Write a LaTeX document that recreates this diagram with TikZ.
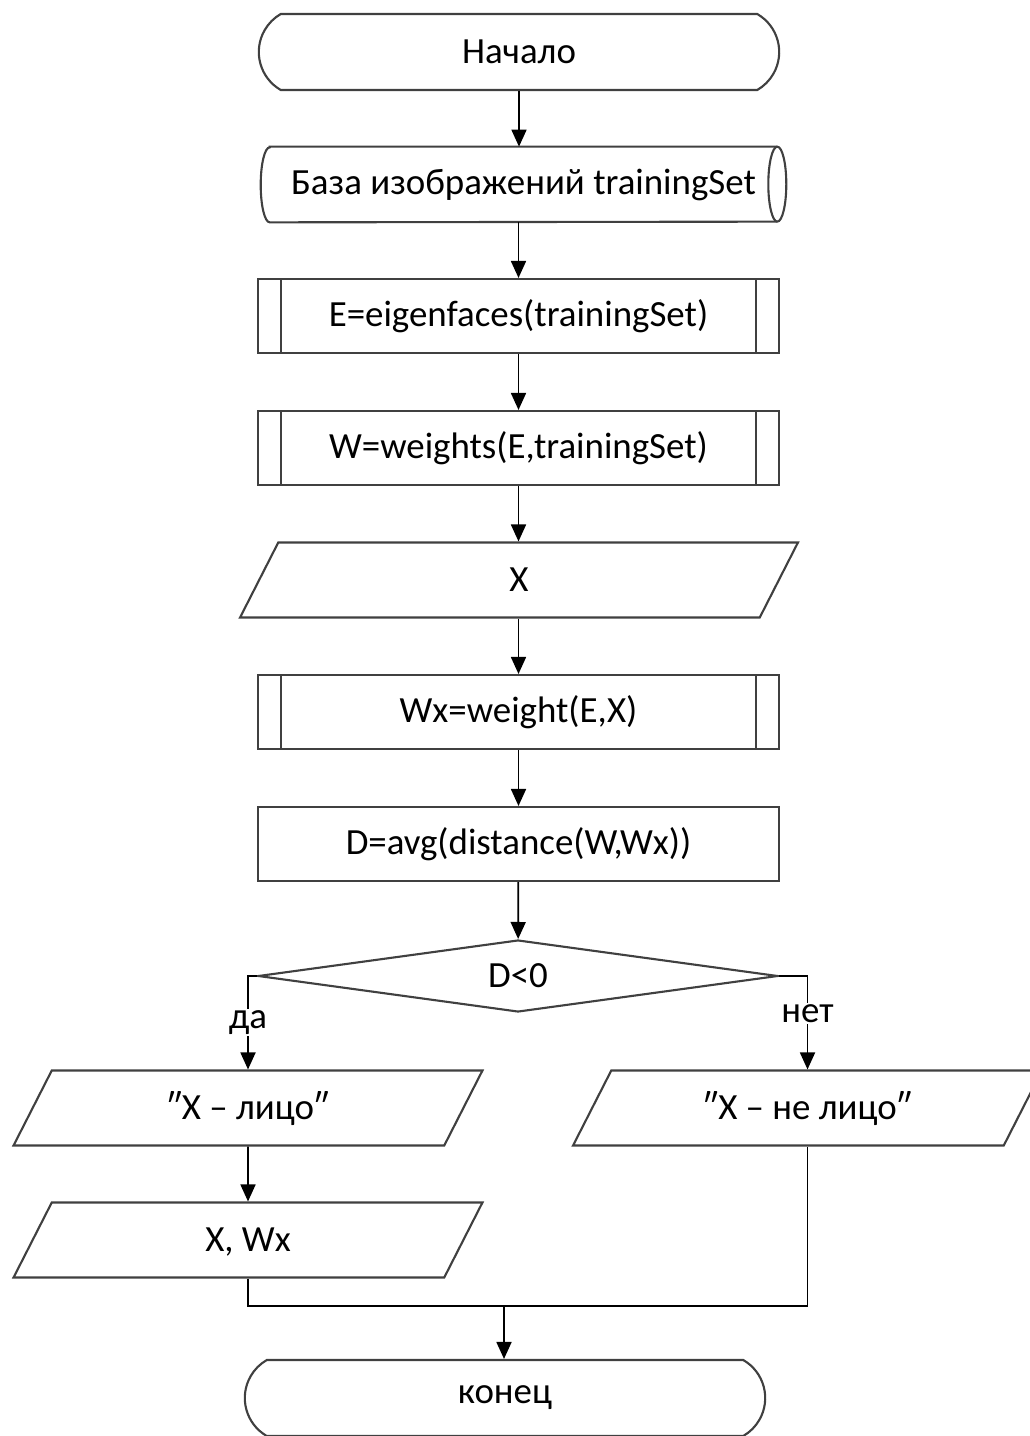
\documentclass[tikz,border=0pt]{standalone}
\usepackage{fontspec}
\setmainfont{Carlito}
\usetikzlibrary{arrows.meta,shapes.geometric,shapes.misc}

\begin{document}
\begin{tikzpicture}[
  x=0.02cm, y=0.02cm,
  font=\fontsize{21pt}{25pt}\selectfont,
  outline/.style={draw=black!75, line width=1.2pt},
  base/.style={outline, fill=white, align=center, inner sep=1pt},
  term/.style={base, rounded rectangle, rounded rectangle arc length=120, minimum width=10.48cm, minimum height=1.52cm},
  store/.style={rectangle, align=center, inner sep=1pt, minimum width=10.5cm, minimum height=1.5cm},
  proc/.style={base, rectangle, minimum width=10.42cm, minimum height=1.48cm},
  subproc/.style={proc, path picture={
      \draw[outline] ([xshift=0.46cm]path picture bounding box.north west) -- ([xshift=0.46cm]path picture bounding box.south west);
      \draw[outline] ([xshift=-0.46cm]path picture bounding box.north east) -- ([xshift=-0.46cm]path picture bounding box.south east);}},
  io/.style={base, trapezium, trapezium left angle=63, trapezium right angle=117, trapezium stretches body=true,
    text height=0.56cm, text depth=0.09cm, inner ysep=0.425cm},
  cond/.style={base, diamond, aspect=7, minimum width=10.4cm, minimum height=1.44cm, inner sep=0pt},
  arr/.style={->, line width=1pt},
  >={Triangle[length=3.4mm, width=3mm]}
]
\useasboundingbox (0,0) rectangle (1030,-1436);

% Main column
\node[term]    (start) at (519,-52)    {Начало};
\node[store]   (db)    at (523.5,-184.5) {База изображений trainingSet};
\node[subproc] (eig)   at (518.5,-316) {E=eigenfaces(trainingSet)};
\node[subproc] (wts)   at (518.5,-448) {W=weights(E,trainingSet)};
\node[io, minimum width=11.16cm] (inx) at (519,-580) {X};
\node[subproc] (wgt)   at (518.5,-712) {Wx=weight(E,X)};
\node[proc]    (dist)  at (518.5,-844) {D=avg(distance(W,Wx))};
\node[cond]    (test)  at (518,-976)   {D<0};

% storage outline: bulged left side, full ellipse on the right
\draw[outline] ([xshift=0.18cm]db.north west) -- ([xshift=-0.18cm]db.north east)
  arc[start angle=90, end angle=-90, x radius=0.18cm, y radius=0.75cm]
  -- ([xshift=0.18cm]db.south west)
  arc[start angle=270, end angle=90, x radius=0.18cm, y radius=0.75cm] -- cycle;
\draw[outline] ([xshift=-0.18cm]db.north east)
  arc[start angle=90, end angle=270, x radius=0.18cm, y radius=0.75cm];

% Branches
\node[io, minimum width=9.38cm] (face)  at (248,-1108)   {″X – лицо″};
\node[io, minimum width=9.38cm] (nface) at (807.5,-1108) {″X – не лицо″};
\node[io, minimum width=9.38cm] (res)   at (248,-1240)   {X, Wx};
\node[term] (stop) at (505,-1398) {конец};
\coordinate (join) at (504,-1306);

% Connectors
\draw[arr] (start) -- (start |- db.north);
\draw[arr] (eig |- db.south) -- (eig);
\draw[arr] (eig) -- (wts);
\draw[arr] (wts) -- (wts |- inx.north);
\draw[arr] (wgt |- inx.south) -- (wgt);
\draw[arr] (wgt) -- (dist);
\draw[arr] (dist) -- (test);
\draw[arr] (test.west) -| node[pos=0.75, fill=white, inner sep=1pt] {да} (face);
\draw[arr] (test.east) -| node[pos=0.7, fill=white, inner sep=1pt] {нет} (nface);
\draw[arr] (face) -- (res);
\draw[line width=1pt] (res) |- (join) -| (nface);
\draw[arr] (join) -- (join |- stop.north);
\end{tikzpicture}
\end{document}
